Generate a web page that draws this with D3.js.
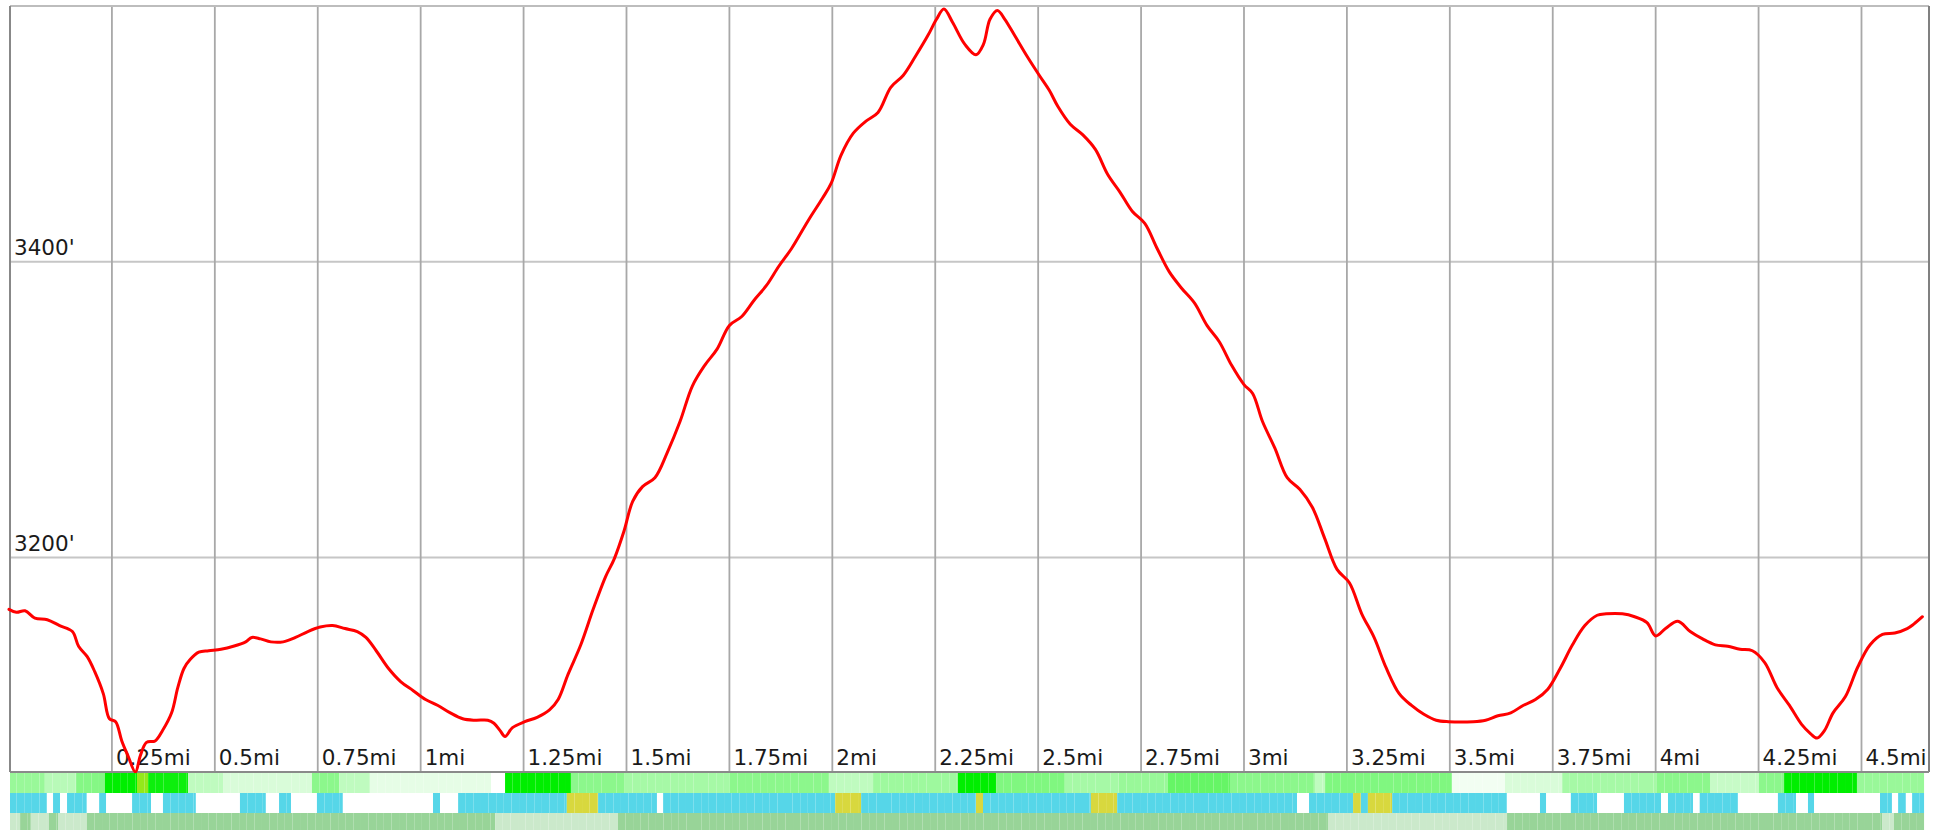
<!DOCTYPE html>
<html><head><meta charset="utf-8">
<script src="https://cdn.jsdelivr.net/npm/d3@7"></script>
<style>html,body{margin:0;padding:0;background:#fff;overflow:hidden}</style>
</head><body>
<svg id="chart" width="1942" height="830"></svg>
<script>
// ---- data ----
const distanceMi = [0.000,0.018,0.039,0.063,0.093,0.123,0.154,0.169,0.190,0.208,0.229,0.244,0.259,0.274,0.289,0.307,0.319,0.334,0.355,0.373,0.395,0.410,0.425,0.440,0.461,0.485,0.515,0.545,0.575,0.590,0.611,0.636,0.666,0.696,0.726,0.756,0.786,0.816,0.846,0.867,0.892,0.922,0.952,0.982,1.012,1.042,1.072,1.102,1.133,1.163,1.178,1.193,1.205,1.223,1.253,1.283,1.313,1.334,1.358,1.389,1.419,1.449,1.470,1.494,1.515,1.539,1.569,1.599,1.630,1.660,1.690,1.720,1.750,1.780,1.810,1.840,1.870,1.901,1.931,1.946,1.976,1.997,2.021,2.051,2.081,2.111,2.142,2.172,2.202,2.232,2.253,2.271,2.292,2.322,2.349,2.367,2.383,2.401,2.419,2.443,2.473,2.503,2.527,2.548,2.578,2.608,2.639,2.669,2.699,2.729,2.759,2.789,2.819,2.849,2.880,2.910,2.940,2.970,3.000,3.021,3.045,3.075,3.105,3.136,3.166,3.196,3.226,3.256,3.286,3.316,3.346,3.377,3.407,3.437,3.467,3.497,3.557,3.587,3.617,3.648,3.678,3.708,3.738,3.768,3.798,3.828,3.858,3.880,3.919,3.949,3.979,4.000,4.024,4.054,4.084,4.114,4.145,4.175,4.205,4.235,4.265,4.295,4.325,4.355,4.376,4.392,4.410,4.431,4.461,4.491,4.521,4.551,4.581,4.611,4.627,4.648];
const elevationFt = [3165,3163,3164,3159,3158,3154,3150,3140,3133,3123,3108,3091,3089,3076,3066,3055,3066,3075,3076,3083,3095,3112,3125,3131,3136,3137,3138,3140,3143,3146,3145,3143,3143,3146,3150,3153,3154,3152,3150,3146,3137,3125,3116,3110,3104,3100,3095,3091,3090,3090,3088,3083,3079,3085,3089,3092,3097,3104,3121,3141,3165,3187,3199,3218,3238,3248,3254,3271,3292,3316,3330,3341,3357,3363,3374,3384,3397,3409,3423,3430,3443,3453,3472,3487,3495,3501,3518,3526,3539,3553,3564,3571,3562,3547,3540,3547,3564,3570,3564,3553,3539,3526,3516,3505,3493,3486,3476,3459,3447,3434,3426,3409,3393,3382,3372,3357,3346,3330,3317,3311,3292,3274,3254,3246,3234,3213,3192,3183,3162,3146,3125,3108,3100,3094,3090,3089,3089,3090,3093,3095,3100,3104,3111,3125,3141,3154,3161,3162,3162,3160,3156,3147,3152,3157,3150,3145,3141,3140,3138,3137,3129,3112,3100,3087,3081,3078,3083,3095,3106,3126,3141,3148,3149,3152,3155,3160];

const xTickValues = [0.25,0.5,0.75,1,1.25,1.5,1.75,2,2.25,2.5,2.75,3,3.25,3.5,3.75,4,4.25,4.5];
const xTickLabels = ["0.25mi","0.5mi","0.75mi","1mi","1.25mi","1.5mi","1.75mi","2mi","2.25mi","2.5mi","2.75mi","3mi","3.25mi","3.5mi","3.75mi","4mi","4.25mi","4.5mi"];
const yTickValues = [3200, 3400];
const yTickLabels = ["3200'", "3400'"];

const trackEndMi = 4.652;
// band 1: grade intensity segments
const gradeStarts = [0,0.087,0.163,0.233,0.311,0.338,0.435,0.520,0.736,0.802,0.877,1.171,1.205,1.365,1.496,1.751,1.992,2.099,2.305,2.398,2.565,2.696,2.815,2.966,3.172,3.197,3.505,3.634,3.773,4.003,4.132,4.251,4.312,4.489];
const gradeValues = [0.40,0.28,0.48,1.0,1.4,0.95,0.25,0.15,0.45,0.25,0.10,0.0,1.0,0.45,0.35,0.45,0.25,0.38,1.0,0.5,0.35,0.4,0.6,0.45,0.25,0.5,0.05,0.15,0.35,0.45,0.22,0.45,1.0,0.4];
// band 2: surface type segments
const surfaceStarts = [0,0.092,0.107,0.124,0.141,0.189,0.219,0.236,0.299,0.345,0.374,0.454,0.561,0.624,0.656,0.685,0.748,0.811,1.030,1.047,1.091,1.355,1.431,1.574,1.589,2.007,2.070,2.349,2.366,2.628,2.692,3.129,3.158,3.265,3.284,3.301,3.360,3.639,3.719,3.734,3.794,3.858,3.923,4.013,4.030,4.091,4.107,4.200,4.297,4.341,4.370,4.385,4.545,4.574,4.589,4.608,4.623];
const surfaceTypes = ["trail","none","trail","none","trail","none","trail","none","trail","none","trail","none","trail","none","trail","none","trail","none","trail","none","trail","road","trail","none","trail","road","trail","road","trail","road","trail","none","trail","road","trail","road","trail","none","trail","none","trail","none","trail","none","trail","none","trail","none","trail","none","trail","none","trail","none","trail","none","trail"];
// band 3: cover segments
const coverStarts = [0,0.027,0.053,0.097,0.119,0.189,1.181,1.479,3.204,3.639,4.550,4.579];
const coverTypes = ["open","forest","open","forest","open","forest","open","forest","open","forest","open","forest"];

// ---- chart ----
const svg = d3.select("#chart");
const x = d3.scaleLinear().domain([0, 4.664]).range([9, 1929]);
const y = d3.scaleLinear().domain([3055, 3573]).range([772, 6]);
const plotLeft = 10, plotRight = 1929, plotTop = 6, plotBottom = 772;

svg.append("rect").attr("width",1942).attr("height",830).attr("fill","#fff");

// horizontal grid
svg.append("g").selectAll("line").data(yTickValues).join("line")
  .attr("x1", plotLeft).attr("x2", plotRight)
  .attr("y1", d => y(d)).attr("y2", d => y(d))
  .attr("stroke", "#c6c6c6").attr("stroke-width", 2);

// vertical grid
svg.append("g").selectAll("line").data(xTickValues).join("line")
  .attr("x1", d => x(d)).attr("x2", d => x(d))
  .attr("y1", plotTop).attr("y2", plotBottom)
  .attr("stroke", "#a8a8a8").attr("stroke-width", 1.8);

// border
svg.append("line").attr("x1",plotLeft).attr("x2",plotRight).attr("y1",plotTop).attr("y2",plotTop).attr("stroke","#bdbdbd").attr("stroke-width",2);
svg.append("line").attr("x1",plotLeft).attr("x2",plotLeft).attr("y1",plotTop).attr("y2",plotBottom).attr("stroke","#888").attr("stroke-width",2);
svg.append("line").attr("x1",plotRight).attr("x2",plotRight).attr("y1",plotTop).attr("y2",plotBottom).attr("stroke","#808080").attr("stroke-width",2);
svg.append("line").attr("x1",plotLeft).attr("x2",plotRight).attr("y1",plotBottom).attr("y2",plotBottom).attr("stroke","#8a8a8a").attr("stroke-width",2);

// labels
const font = "'DejaVu Sans', Verdana, sans-serif";
svg.append("g").selectAll("text").data(xTickValues).join("text")
  .attr("x", d => x(d) + 4).attr("y", 765)
  .attr("font-family", font).attr("font-size", 21.5).attr("fill", "#1a1a1a")
  .text((d,i) => xTickLabels[i]);
svg.append("g").selectAll("text").data(yTickValues).join("text")
  .attr("x", 14).attr("y", d => y(d) - 7)
  .attr("font-family", font).attr("font-size", 21.5).attr("fill", "#1a1a1a")
  .text((d,i) => yTickLabels[i]);

// elevation line
const pts = distanceMi.map((d,i) => [d, elevationFt[i]]);
svg.append("path").datum(pts)
  .attr("fill","none").attr("stroke","#ff0000").attr("stroke-width",3)
  .attr("stroke-linejoin","round").attr("stroke-linecap","round")
  .attr("d", d3.line().x(d => x(d[0])).y(d => y(d[1])).curve(d3.curveCatmullRom.alpha(0.5)));

// bands
const bandLeft = 10;
const bx = v => Math.max(bandLeft, x(v));
const gradeColor = d3.scaleLinear().domain([0, 1, 1.5]).range(["#ffffff", "#00ee00", "#b8e820"]).clamp(true);
const surfaceColor = d3.scaleOrdinal().domain(["trail","road","none"]).range(["#56d6e8","#d8d83e","#ffffff"]);
const coverColor = d3.scaleOrdinal().domain(["forest","open"]).range(["#98d498","#cbe9cb"]);

function band(starts, vals, color, y0, h) {
  const cellMi = 0.0185;
  const cells = [];
  starts.forEach((s, i) => {
    const e = i + 1 < starts.length ? starts[i+1] : trackEndMi;
    for (let a = s; a < e - 1e-9; a += cellMi) {
      cells.push({a, b: Math.min(e, a + cellMi), v: vals[i]});
    }
  });
  svg.append("g").selectAll("rect").data(cells).join("rect")
    .attr("x", d => bx(d.a)).attr("width", d => bx(d.b) - bx(d.a))
    .attr("y", y0).attr("height", h)
    .attr("fill", d => color(d.v));
}
band(gradeStarts, gradeValues, gradeColor, 773, 20);
band(surfaceStarts, surfaceTypes, surfaceColor, 793, 20);
band(coverStarts, coverTypes, coverColor, 813, 20);
</script>
</body></html>
